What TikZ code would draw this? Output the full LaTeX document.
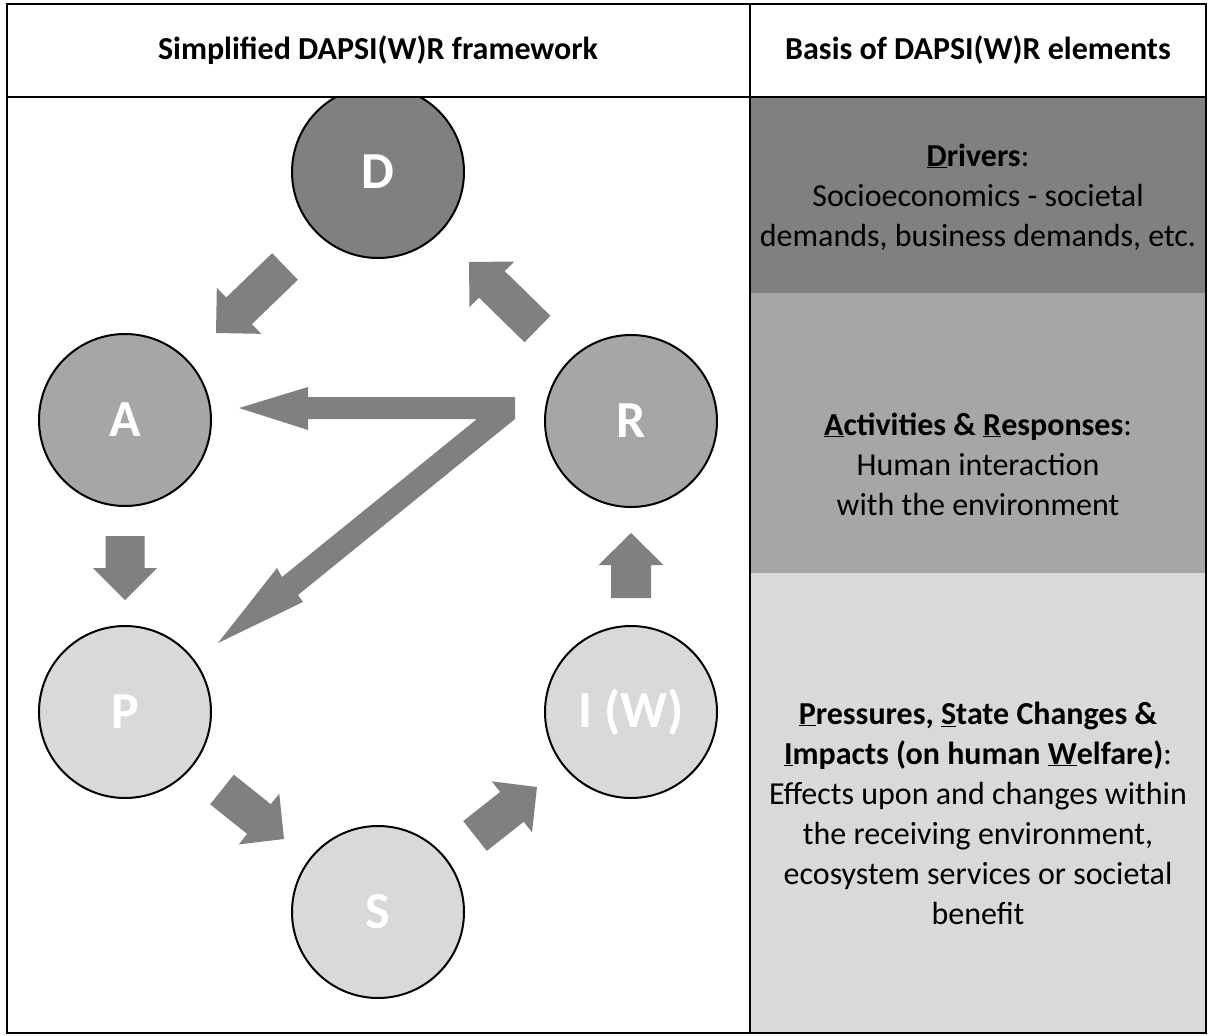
\documentclass[tikz,border=0pt]{standalone}
\usepackage{fontspec}
\setmainfont{Carlito}
\usetikzlibrary{calc}
\definecolor{dk}{HTML}{808080}
\definecolor{md}{HTML}{A6A6A6}
\definecolor{lt}{HTML}{D9D9D9}
\newcommand\blockarr[5]{% back, tip, half shaft, half head, head length
  \coordinate (hb) at ($(#2)!#5!(#1)$);
  \fill[dk] ($(#1)!#3!90:(#2)$) -- ($(hb)!#3!-90:(#1)$) -- ($(hb)!#4!-90:(#1)$) -- (#2)
    -- ($(hb)!#4!90:(#1)$) -- ($(hb)!#3!90:(#1)$) -- ($(#1)!#3!-90:(#2)$) -- cycle;
}
\begin{document}
\begin{tikzpicture}[x=1pt,y=-1pt,
  circ/.style={circle,draw=black,line width=2pt,minimum size=172pt,inner sep=0pt,text=white,
    font=\bfseries\fontsize{52}{60}\selectfont},
  txt/.style={align=center,inner sep=0pt,font=\fontsize{32}{40}\selectfont},
  head/.style={align=center,inner sep=0pt,font=\bfseries\fontsize{32}{40}\selectfont}]
\useasboundingbox (0,0) rectangle (1208,1036);
% right column bands
\fill[dk] (750,97) rectangle (1206,293);
\fill[md] (750,293) rectangle (1206,573);
\fill[lt] (750,573) rectangle (1206,1033);
% headers
\node[head] (h1) at (378,50) {Simplified DAPSI(W)R framework};
\node[head] (h2) at (978,50) {Basis of DAPSI(W)R elements};
% circles (the drawing is clipped by its table cell)
\begin{scope}
\clip (7,97) rectangle (750,1033);
\node[circ,fill=dk] (D) at (378,172) {D};
\end{scope}
\node[circ,fill=md] (A) at (125,420) {A};
\node[circ,fill=md] (R) at (631,421) {R};
\node[circ,fill=lt] (P) at (125,712) {P};
\node[circ,fill=lt] (I) at (631,712) {I (W)};
\node[circ,fill=lt] (S) at (378,912) {S};
% table lines
\draw[line width=2pt] (7,4) rectangle (1206,1033);
\draw[line width=2pt] (750,4) -- (750,1033);
\draw[line width=2pt] (7,97) -- (1206,97);
% block arrows
\coordinate (a1b) at (285,266.5); \coordinate (a1t) at (216,333);
\coordinate (a2b) at (537.5,329); \coordinate (a2t) at (469,262);
\coordinate (a3b) at (125,536);   \coordinate (a3t) at (125,600);
\coordinate (a4b) at (631,598);   \coordinate (a4t) at (631,533);
\coordinate (a5b) at (222,789.5); \coordinate (a5t) at (284,839);
\coordinate (a6b) at (475,836);   \coordinate (a6t) at (537,787);
\blockarr{a1b}{a1t}{18.5pt}{32pt}{32pt}
\blockarr{a2b}{a2t}{18.5pt}{32pt}{32pt}
\blockarr{a3b}{a3t}{19.5pt}{32pt}{32pt}
\blockarr{a4b}{a4t}{20pt}{32.5pt}{32pt}
\blockarr{a5b}{a5t}{19pt}{32.5pt}{32pt}
\blockarr{a6b}{a6t}{19pt}{32.5pt}{32pt}
% Z-shaped arrow from R to A and P
\fill[dk] (239,408) -- (308,387) -- (308,397) -- (515,397) -- (515,419) -- (298,595)
  -- (303,602) -- (218,643) -- (277,568) -- (282,577) -- (477,419) -- (308,419)
  -- (308,430) -- cycle;
% right column texts
\node[txt] (tD) at (978,197) {\textbf{\underline{D}rivers}:\\Socioeconomics - societal\\demands, business demands, etc.};
\node[txt] (tAR) at (978,464) {\textbf{\underline{A}ctivities \& \underline{R}esponses}:\\Human interaction\\with the environment};
\node[txt] (tPSI) at (978,813) {\textbf{\underline{P}ressures, \underline{S}tate Changes \&}\\\textbf{\underline{I}mpacts (on human \underline{W}elfare)}:\\Effects upon and changes within\\the receiving environment,\\ecosystem services or societal\\benefit};
\end{tikzpicture}
\end{document}
